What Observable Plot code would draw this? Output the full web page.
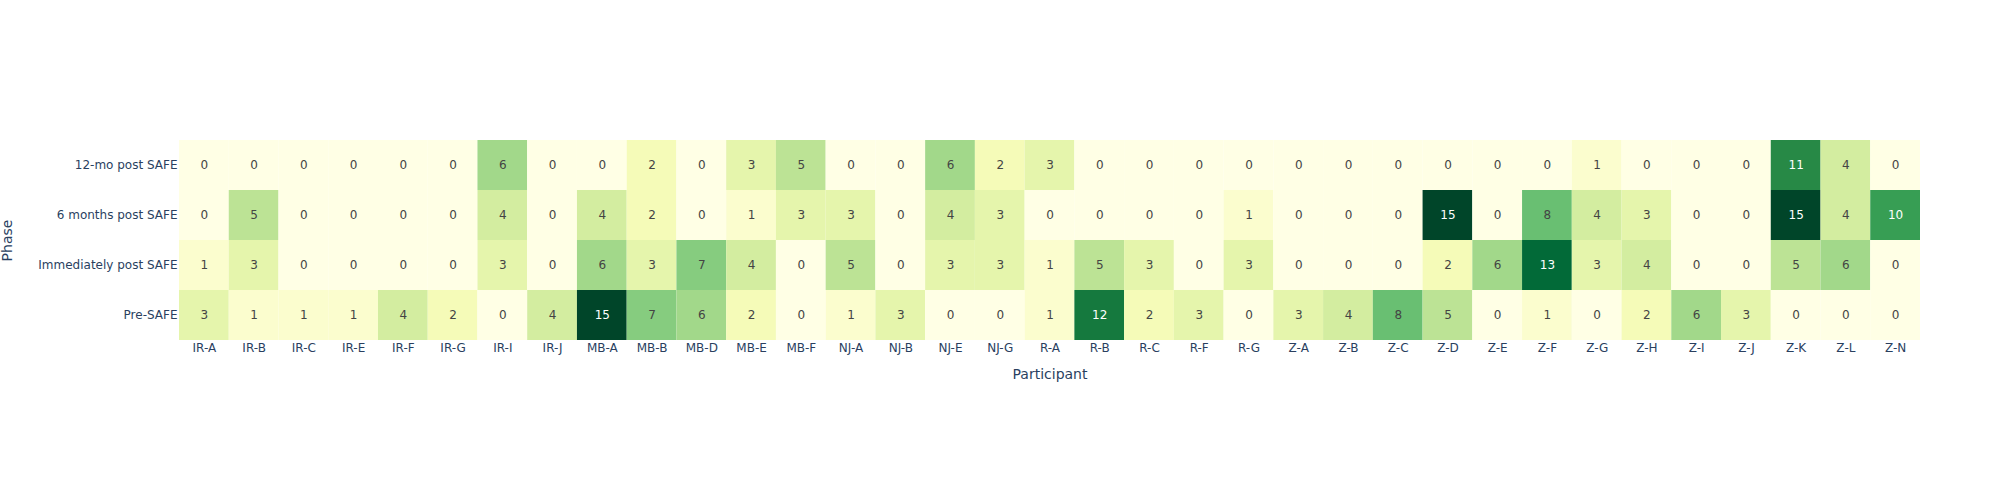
<!DOCTYPE html>
<html>
<head>
<meta charset="utf-8">
<script src="https://cdn.jsdelivr.net/npm/d3@7"></script>
<script src="https://cdn.jsdelivr.net/npm/@observablehq/plot@0.6"></script>
<style>
  html, body { margin: 0; padding: 0; background: #fff; }
  #chart svg { display: block; }
  #chart [aria-label="x-axis label"], #chart [aria-label="y-axis label"] { font-size: 14px; }
</style>
</head>
<body>
<div id="chart"></div>
<script>
const participants = ["IR-A","IR-B","IR-C","IR-E","IR-F","IR-G","IR-I","IR-J","MB-A","MB-B","MB-D","MB-E","MB-F","NJ-A","NJ-B","NJ-E","NJ-G","R-A","R-B","R-C","R-F","R-G","Z-A","Z-B","Z-C","Z-D","Z-E","Z-F","Z-G","Z-H","Z-I","Z-J","Z-K","Z-L","Z-N"];
const phases = ["12-mo post SAFE","6 months post SAFE","Immediately post SAFE","Pre-SAFE"];
const twelveMonths = [0,0,0,0,0,0,6,0,0,2,0,3,5,0,0,6,2,3,0,0,0,0,0,0,0,0,0,0,1,0,0,0,11,4,0];
const sixMonths    = [0,5,0,0,0,0,4,0,4,2,0,1,3,3,0,4,3,0,0,0,0,1,0,0,0,15,0,8,4,3,0,0,15,4,10];
const immediately  = [1,3,0,0,0,0,3,0,6,3,7,4,0,5,0,3,3,1,5,3,0,3,0,0,0,2,6,13,3,4,0,0,5,6,0];
const preSafe      = [3,1,1,1,4,2,0,4,15,7,6,2,0,1,3,0,0,1,12,2,3,0,3,4,8,5,0,1,0,2,6,3,0,0,0];
const seriesByPhase = [twelveMonths, sixMonths, immediately, preSafe];
const colorStops = ["#ffffe5","#f7fcb9","#d9f0a3","#addd8e","#78c679","#41ab5d","#238443","#006837","#004529"];
const zMin = 0, zMax = 15;

const table = [];
phases.forEach((phase, i) => {
  participants.forEach((p, j) => {
    table.push({participant: p, phase, value: seriesByPhase[i][j]});
  });
});

const interp = d3.piecewise(d3.interpolateRgb, colorStops);
const textColor = d => {
  const c = d3.rgb(interp((d.value - zMin) / (zMax - zMin)));
  const brightness = (c.r * 299 + c.g * 587 + c.b * 114) / 1000;
  return brightness < 128 ? "#ffffff" : "#444444";
};

const chart = Plot.plot({
  width: 2000,
  height: 500,
  marginLeft: 179,
  marginRight: 80,
  marginTop: 140,
  marginBottom: 160,
  style: {fontFamily: "'DejaVu Sans', Verdana, sans-serif", fontSize: "12px", color: "#2a3f5f", background: "#fff"},
  x: {domain: participants, padding: 0, round: false, label: null},
  y: {domain: phases, padding: 0, round: false, label: null},
  color: {type: "linear", domain: [zMin, zMax], interpolate: interp},
  marks: [
    Plot.cell(table, {x: "participant", y: "phase", fill: "value"}),
    Plot.text(table, {x: "participant", y: "phase", text: d => String(d.value), fill: textColor, fontSize: 12}),
    Plot.axisX({tickSize: 0, tickPadding: 3, label: "Participant", labelAnchor: "center", labelOffset: 38, fill: "#2a3f5f", fontSize: 12}),
    Plot.axisY({tickSize: 0, tickPadding: 2, label: "Phase", labelAnchor: "center", labelOffset: 177, fill: "#2a3f5f", fontSize: 12})
  ]
});
document.getElementById("chart").appendChild(chart);
</script>
</body>
</html>
